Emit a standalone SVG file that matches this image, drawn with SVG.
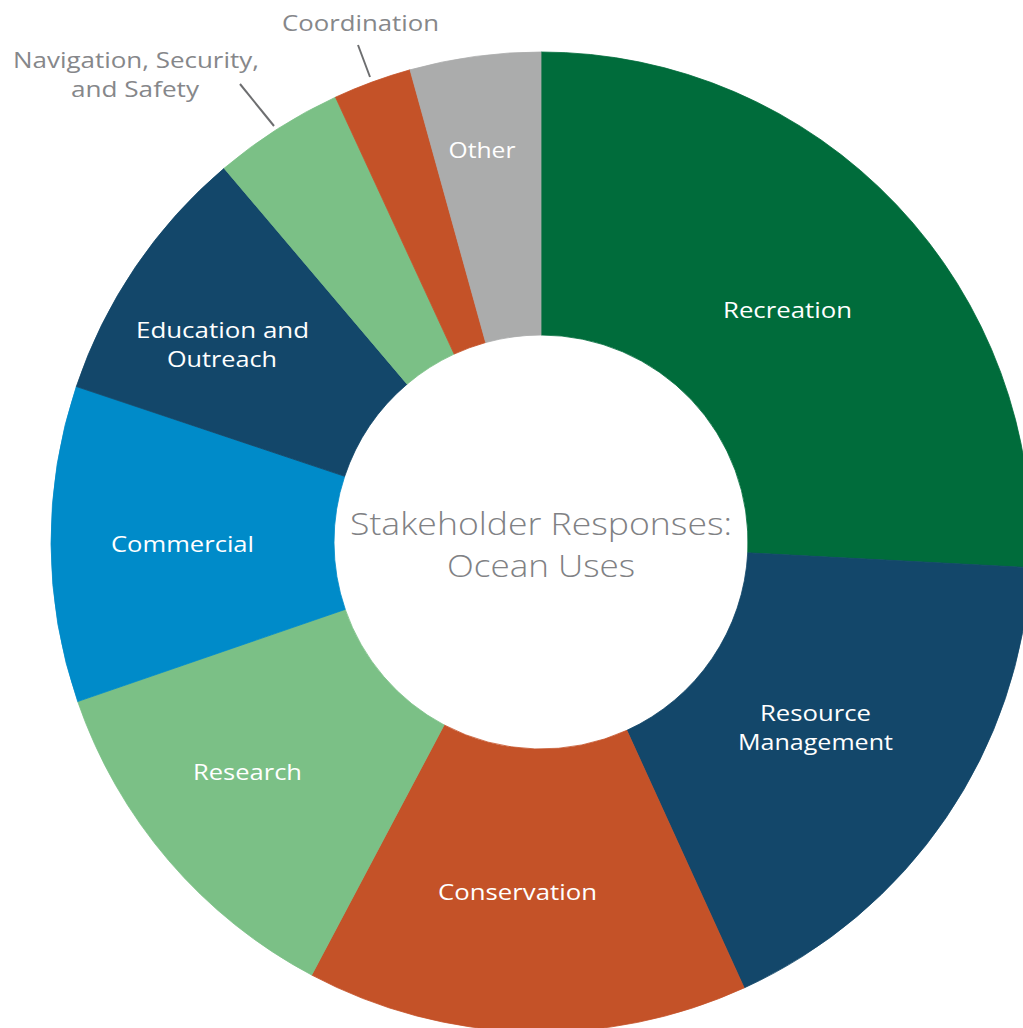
<svg xmlns="http://www.w3.org/2000/svg" width="1023" height="1028" viewBox="0 0 1023 1028">
<style>
.lbl{font-family:"Open Sans","Liberation Sans",sans-serif;font-size:22px;font-weight:400;fill:#ffffff;text-anchor:middle}
.out{font-family:"Open Sans","Liberation Sans",sans-serif;font-size:22px;font-weight:400;fill:#86878a;text-anchor:middle}
.ttl{font-family:"Open Sans","Liberation Sans",sans-serif;font-size:32px;font-weight:300;fill:#808184;text-anchor:middle}
.dg{fill:#006c3b;stroke:#006c3b}
.nv{fill:#13476a;stroke:#13476a}
.or{fill:#c45228;stroke:#c45228}
.lg{fill:#7bc086;stroke:#7bc086}
.bl{fill:#008bc9;stroke:#008bc9}
.gy{fill:#abacac;stroke:#abacac}
path{stroke-width:0.8}
.lead{stroke:#6d6e70;stroke-width:2;fill:none}
</style>
<rect width="1023" height="1028" fill="#ffffff"/>
<g id="recreation">
<path class="dg" d="M541,52 A490,490 0 0 1 1030.33,567.65 L747.72,552.83 A207,207 0 0 0 541,335 Z"/>
<text class="lbl" x="787.5" y="318" textLength="129" lengthAdjust="spacingAndGlyphs">Recreation</text>
</g>
<g id="resource-management">
<path class="nv" d="M1030.33,567.65 A490,490 0 0 1 744.2,987.88 L626.84,730.36 A207,207 0 0 0 747.72,552.83 Z"/>
<text class="lbl" x="815.5" y="721" textLength="111" lengthAdjust="spacingAndGlyphs">Resource</text>
<text class="lbl" x="815.5" y="750" textLength="155" lengthAdjust="spacingAndGlyphs">Management</text>
</g>
<g id="conservation">
<path class="or" d="M744.2,987.88 A490,490 0 0 1 311.71,975.05 L444.14,724.94 A207,207 0 0 0 626.84,730.36 Z"/>
<text class="lbl" x="517.5" y="900" textLength="159" lengthAdjust="spacingAndGlyphs">Conservation</text>
</g>
<g id="research">
<path class="lg" d="M311.71,975.05 A490,490 0 0 1 77.7,701.53 L345.28,609.39 A207,207 0 0 0 444.14,724.94 Z"/>
<text class="lbl" x="247.5" y="780" textLength="109" lengthAdjust="spacingAndGlyphs">Research</text>
</g>
<g id="commercial">
<path class="bl" d="M77.7,701.53 A490,490 0 0 1 76.32,386.52 L344.7,476.32 A207,207 0 0 0 345.28,609.39 Z"/>
<text class="lbl" x="182.5" y="552" textLength="143" lengthAdjust="spacingAndGlyphs">Commercial</text>
</g>
<g id="education-outreach">
<path class="nv" d="M76.32,386.52 A490,490 0 0 1 224.07,168.29 L407.11,384.13 A207,207 0 0 0 344.7,476.32 Z"/>
<text class="lbl" x="222.5" y="338" textLength="173" lengthAdjust="spacingAndGlyphs">Education and</text>
<text class="lbl" x="222" y="367" textLength="110" lengthAdjust="spacingAndGlyphs">Outreach</text>
</g>
<g id="navigation-security-safety">
<path class="lg" d="M224.07,168.29 A490,490 0 0 1 335.47,97.19 L454.17,354.09 A207,207 0 0 0 407.11,384.13 Z"/>
<text class="out" x="136" y="68" textLength="246" lengthAdjust="spacingAndGlyphs">Navigation, Security,</text>
<text class="out" x="135" y="97" textLength="128" lengthAdjust="spacingAndGlyphs">and Safety</text>
</g>
<g id="coordination">
<path class="or" d="M335.47,97.19 A490,490 0 0 1 410.05,69.82 L485.68,342.53 A207,207 0 0 0 454.17,354.09 Z"/>
<text class="out" x="360.5" y="31" textLength="157" lengthAdjust="spacingAndGlyphs">Coordination</text>
</g>
<g id="other">
<path class="gy" d="M410.05,69.82 A490,490 0 0 1 541,52 L541,335 A207,207 0 0 0 485.68,342.53 Z"/>
<text class="lbl" x="482" y="158" textLength="67" lengthAdjust="spacingAndGlyphs">Other</text>
</g>
<g id="center-title">
<text class="ttl" x="541" y="535" textLength="382" lengthAdjust="spacingAndGlyphs">Stakeholder Responses:</text>
<text class="ttl" x="541" y="577" textLength="188" lengthAdjust="spacingAndGlyphs">Ocean Uses</text>
</g>
<g id="connectors">
<line class="lead" x1="240" y1="84" x2="274" y2="126"/>
<line class="lead" x1="358" y1="45" x2="370" y2="77"/>
</g>
</svg>
